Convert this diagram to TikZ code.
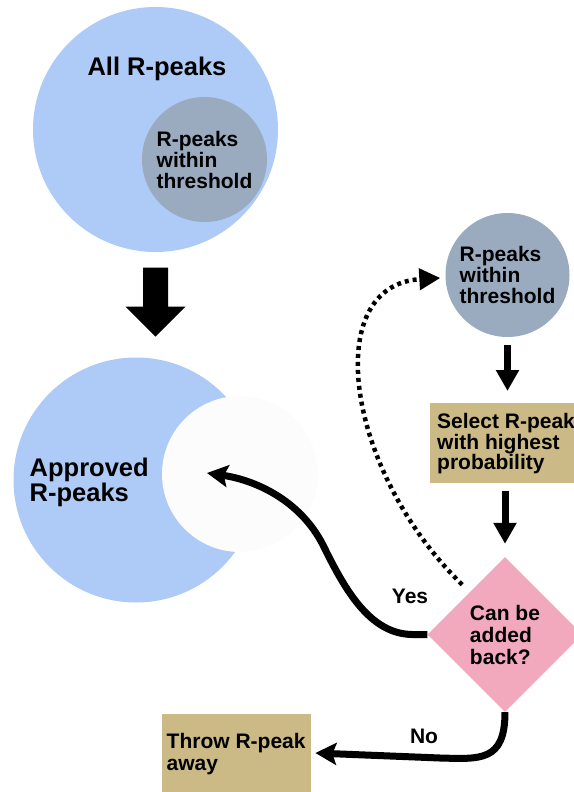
\documentclass[tikz,border=0pt]{standalone}
\usepackage{fontspec}
\setmainfont{Liberation Sans}
\usetikzlibrary{shapes.geometric,arrows.meta,calc}
\definecolor{cblue}{HTML}{ADCBF6}
\definecolor{cgray}{HTML}{9AAABF}
\definecolor{ctan}{HTML}{CCBA86}
\definecolor{cpink}{HTML}{F2A9BD}
\definecolor{cwhite}{HTML}{FCFCFC}
\begin{document}
\begin{tikzpicture}[x=1pt,y=-1pt,
  bigtxt/.style={font=\fontsize{25.5}{20}\selectfont\bfseries, inner sep=0pt, align=left},
  smtxt/.style={font=\fontsize{21}{19}\selectfont\bfseries, inner sep=0pt, align=left},
  circtxt/.style={font=\fontsize{21}{21}\selectfont\bfseries, inner sep=0pt, align=left},
  disk/.style={circle, inner sep=0pt},
  tanbox/.style={rectangle, fill=ctan, inner sep=0pt, anchor=north west},
  thickarrow/.style={line width=7pt, -{Triangle[length=21pt,width=22pt]}},
  curvearrow/.style={line width=7pt, -{Stealth[length=21pt,width=22pt,inset=4pt]}},
  dotarrow/.style={line width=4.5pt, dash pattern=on 4pt off 4pt, -{Triangle[length=21pt,width=21pt]}}
]
\useasboundingbox (0,0) rectangle (573,792);

% top Venn
\node[disk, fill=cblue, minimum size=245pt] (allc) at (155.5,129.5) {};
\node[bigtxt, anchor=base] (alltxt) at (157,75) {All R-peaks};
\node[disk, fill=cgray, minimum size=125pt, circtxt] (inn) at (204.5,159.5) {R-peaks\\within\\threshold};

% big arrow
\path (allc.south) ++(0,15.5) coordinate (bt);
\fill[black] (bt) ++(-12.5,0) -- ++(25,0) -- ++(0,39) -- ++(17.5,0) -- ++(-30,30) -- ++(-30,-30) -- ++(17.5,0) -- cycle;

% approved
\node[disk, fill=cblue, minimum size=245pt] (appr) at (136,480) {};
\node[disk, fill=cwhite, minimum size=156pt] (hole) at (240,474) {};
\node[bigtxt, anchor=north west] (apprtxt) at (29.5,458) {Approved\\R-peaks};

% right column
\node[disk, fill=cgray, minimum size=124pt, circtxt] (tr) at (507.5,275) {R-peaks\\within\\threshold};
\node[tanbox, minimum width=190pt, minimum height=80pt] (sel) at (430,403) {};
\node[smtxt, anchor=north west] (seltxt) at (437,413.3) {Select R-peak\\with highest\\probability};
\node[diamond, aspect=1, fill=cpink, minimum width=155pt, minimum height=155pt, inner sep=0pt, font=\fontsize{21}{22}\selectfont\bfseries, align=left] (dia) at (505,634.5) {Can be\\added\\back?};
\node[tanbox, minimum width=149pt, minimum height=116pt] (throw) at (162,714) {};
\node[font=\fontsize{21}{22}\selectfont\bfseries, inner sep=0pt, align=left, anchor=north west] (throwtxt) at (166.5,733) {Throw R-peak\\away};

% straight arrows
\draw[thickarrow] ($(tr.south)+(0,8)$) -- ($(tr.south |- sel.north)+(0,-12)$);
\draw[thickarrow] ($(dia.north |- sel.south)+(0,8)$) -- ($(dia.north)+(0,-13)$);

% yes
\coordinate (yesend) at (207,473);
\draw[curvearrow] (dia.west) -- ++(-15,0) .. controls (370,634) and (345,590) .. (323,545) .. controls (300,500) and (255,480) .. (yesend);
\node[smtxt, anchor=base] (yes) at (410,603) {Yes};

% no
\coordinate (noend) at ($(throw.north east)+(4,39)$);
\draw[curvearrow] (dia.south) .. controls (505,762) and (480,759) .. (440,758) -- (noend);
\node[smtxt, anchor=base] (no) at (424,743) {No};

% dotted feedback
\coordinate (dstart) at ($(dia.north west)+(-4,-11)$);
\coordinate (dend) at ($(tr.west)+(-5,3)$);
\draw[dotarrow] (dstart) .. controls (345,470) and (320,285) .. (dend);
\end{tikzpicture}
\end{document}
